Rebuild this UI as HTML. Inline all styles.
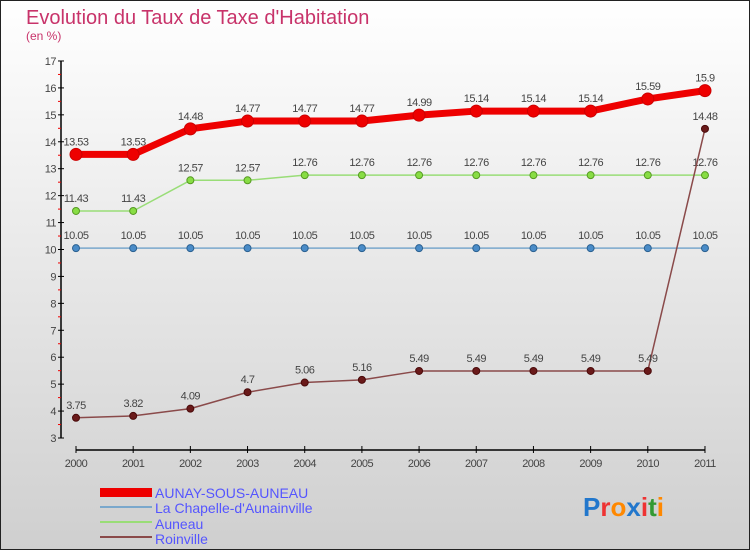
<!DOCTYPE html>
<html><head><meta charset="utf-8"><style>
body{margin:0}
#c{width:750px;height:550px;position:relative;font-family:"Liberation Sans",sans-serif}
</style></head><body>
<div id="c">
<svg id="s" width="750" height="550" xmlns="http://www.w3.org/2000/svg">
<defs><linearGradient id="bg" x1="0" y1="0" x2="0" y2="1"><stop offset="0" stop-color="#ffffff"/><stop offset="1" stop-color="#cfcfcf"/></linearGradient></defs>
<rect x="0.5" y="0.5" width="749" height="549" fill="url(#bg)" stroke="#222"/>
<text x="26" y="24" font-size="20" fill="#c8336a">Evolution du Taux de Taxe d'Habitation</text>
<text x="26" y="40" font-size="12" fill="#c8336a">(en %)</text>
<g id="axes"></g><g id="marks"></g>
<g>
<rect x="100" y="488" width="52" height="9" fill="#ee0000"/>
<text x="155" y="498" font-size="14" fill="#5555ff">AUNAY-SOUS-AUNEAU</text>
<rect x="100" y="506" width="52" height="2" fill="#7aa8cc"/>
<text x="155" y="513" font-size="14" fill="#5555ff">La Chapelle-d'Aunainville</text>
<rect x="100" y="521" width="52" height="2" fill="#99dd77"/>
<text x="155" y="529" font-size="14" fill="#5555ff">Auneau</text>
<rect x="100" y="536" width="52" height="2" fill="#8a4a4a"/>
<text x="155" y="544" font-size="14" fill="#5555ff">Roinville</text>
</g>
<text x="583" y="516" font-size="26" font-weight="bold"><tspan fill="#2277cc">P</tspan><tspan fill="#ee3333">r</tspan><tspan fill="#ff8800">o</tspan><tspan fill="#2277cc">x</tspan><tspan fill="#ee3333">i</tspan><tspan fill="#339933">t</tspan><tspan fill="#ff8800">i</tspan></text>
</svg></div>
<script>
const years=[2000,2001,2002,2003,2004,2005,2006,2007,2008,2009,2010,2011];
const aunay=[13.53,13.53,14.48,14.77,14.77,14.77,14.99,15.14,15.14,15.14,15.59,15.9];
const chapelle=[10.05,10.05,10.05,10.05,10.05,10.05,10.05,10.05,10.05,10.05,10.05,10.05];
const auneau=[11.43,11.43,12.57,12.57,12.76,12.76,12.76,12.76,12.76,12.76,12.76,12.76];
const roinville=[3.75,3.82,4.09,4.7,5.06,5.16,5.49,5.49,5.49,5.49,5.49,14.48];
const yTicks=[3,4,5,6,7,8,9,10,11,12,13,14,15,16,17];
const NS="http://www.w3.org/2000/svg";
const X=i=>76+i*57.18, Y=v=>438-(v-3)*26.93;
function mk(t,a,p){const e=document.createElementNS(NS,t);for(const k in a)e.setAttribute(k,a[k]);p.appendChild(e);return e;}
const ax=document.getElementById('axes'),mg=document.getElementById('marks');
let e=mk('line',{x1:61,y1:Y(17),x2:61,y2:Y(3),stroke:'#000','stroke-width':1.5},ax);


e=mk('line',{x1:X(0),y1:450,x2:X(11),y2:450,stroke:'#000','stroke-width':1.5},ax);


yTicks.forEach(v=>{
 mk('line',{x1:58,x2:64,y1:Y(v),y2:Y(v),stroke:'#000'},ax);
 if(v<17)mk('line',{x1:58,x2:61,y1:Y(v+0.5),y2:Y(v+0.5),stroke:'#e00'},ax);
 const t=mk('text',{x:56,y:Y(v)+4,'font-size':11,fill:'#444','text-anchor':'end','letter-spacing':'-0.5'},ax);t.textContent=v;
 
 
});
years.forEach((y,i)=>{
 mk('line',{x1:X(i),x2:X(i),y1:446,y2:453,stroke:'#000'},ax);
 const t=mk('text',{x:X(i),y:467,'font-size':11,fill:'#444','text-anchor':'middle','letter-spacing':'-0.5'},ax);t.textContent=y;
 
 
});
function series(name,vals,color,w,r,dot,dotStroke){
 const g=mk('g',{},mg);
 
 
 mk('polyline',{points:vals.map((v,i)=>X(i)+','+Y(v)).join(' '),fill:'none',stroke:color,'stroke-width':w,'stroke-linejoin':'round'},g);
 vals.forEach((v,i)=>{
  const c=mk('circle',{cx:X(i),cy:Y(v),r:r,fill:dot,stroke:dotStroke,'stroke-width':1},g);
  
  
  const t=mk('text',{x:X(i),y:Y(v)-9,'font-size':11,fill:'#444','text-anchor':'middle','letter-spacing':'-0.5'},g);
  t.textContent=v;
  
  
 });
}
series('chapelle',chapelle,'#7aa8cc',1.5,3.5,'#4a8cc8','#2a6090');
series('auneau',auneau,'#99dd77',1.5,3.5,'#88dd44','#559922');
series('roinville',roinville,'#8a4a4a',1.5,3.5,'#6a1a1a','#4a0a0a');
series('aunay',aunay,'#ee0000',7,6,'#ee0000','#cc0000');
</script>
</body></html>
